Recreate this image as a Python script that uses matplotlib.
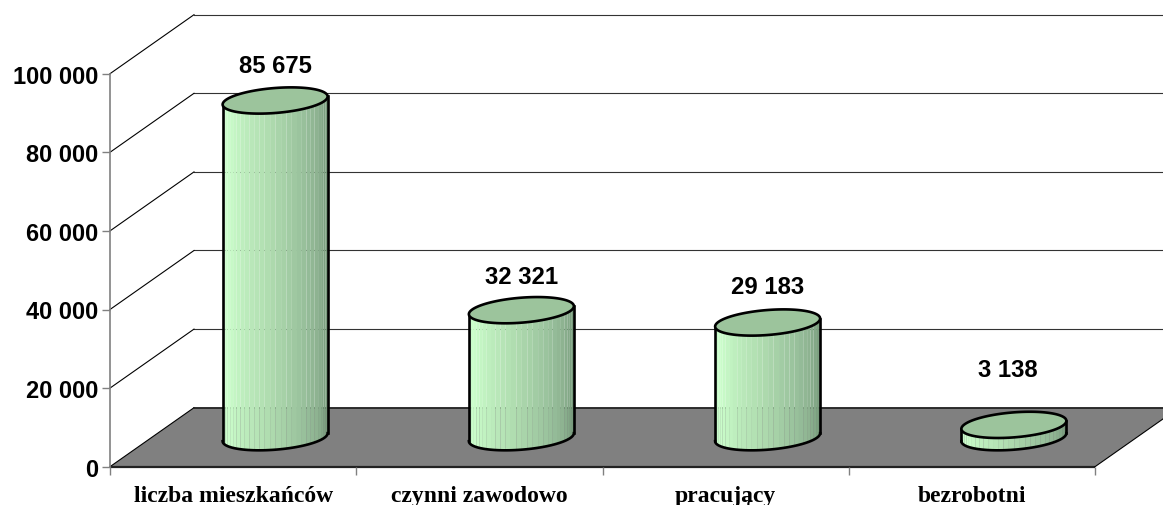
import numpy as np
import matplotlib
matplotlib.use("Agg")
import matplotlib.pyplot as plt
from matplotlib.colors import LinearSegmentedColormap

categories = ["liczba mieszkańców", "czynni zawodowo", "pracujący", "bezrobotni"]
values = [85675, 32321, 29183, 3138]
value_labels = ["85 675", "32 321", "29 183", "3 138"]
y_ticks = [0, 20000, 40000, 60000, 80000, 100000]
y_tick_labels = ["0", "20 000", "40 000", "60 000", "80 000", "100 000"]

W, H = 1163, 506
fig = plt.figure(figsize=(W / 100, H / 100), dpi=100)
ax = fig.add_axes([0, 0, 1, 1])

# scales: pixels per data unit
PX_X = 246.25
PX_Y = 393.0 / 100000
X0, Y0 = 110.0, 467.7
ax.set_xlim(-X0 / PX_X, (W - X0) / PX_X)
ax.set_ylim(-(H - Y0) / PX_Y, Y0 / PX_Y)

DX = 84.0 / PX_X      # depth offset
DY = 59.0 / PX_Y
A = 52.5 / PX_X       # cylinder half width (x radius)
B = 12.5 / PX_Y       # ellipse y radius
S = 4.0 / PX_Y        # ellipse tilt
LW = 1.9

# floor
ax.fill([0, 4, 4 + DX, DX], [0, 0, DY, DY], facecolor="#808080", edgecolor="none", zorder=1)
ax.plot([0, 4], [0, 0], color="#222222", lw=1.6, zorder=1.2, solid_capstyle="butt")
ax.plot([DX, 4 + DX], [DY, DY], color="#222222", lw=1.3, zorder=1.2)
ax.plot([4, 4 + DX], [0, DY], color="black", lw=0.8, zorder=1.2)

# walls
for v in y_ticks:
    ax.plot([0, DX], [v, v + DY], color="black", lw=0.8, zorder=1.1)
    if v > 0:
        ax.plot([DX, 4 + DX], [v + DY, v + DY], color="#333333", lw=0.8, zorder=0.9)

# cylinders
cmap = LinearSegmentedColormap.from_list(
    "cyl", [(0, "#BDEEC2"), (0.12, "#CCFFCC"), (0.45, "#B0DDB0"), (0.8, "#8CB190"), (1, "#688C6C")])
top_color = "#9CC49C"
N_STRIPS = 30
t_front = np.linspace(np.pi, 0, 121)  # front half, left to right
t_all = np.linspace(0, 2 * np.pi, 181)

for i, v in enumerate(values):
    cx = i + 0.5 + DX / 2
    base = DY / 2
    xs = cx + A * np.cos(t_front)
    low = base - B * np.sin(t_front) + S * np.cos(t_front)
    high = low + v
    edges = np.linspace(0, len(xs) - 1, N_STRIPS + 1).astype(int)
    for k in range(N_STRIPS):
        j0, j1 = edges[k], edges[k + 1] + 1
        ax.fill_between(xs[j0:j1], low[j0:j1], high[j0:j1],
                        color=cmap((k + 0.5) / N_STRIPS), lw=0, zorder=3)
    # outline of the side
    ax.plot(xs, low, color="black", lw=LW, zorder=4)
    ax.plot([xs[0], xs[0]], [low[0], high[0]], color="black", lw=LW, zorder=4)
    ax.plot([xs[-1], xs[-1]], [low[-1], high[-1]], color="black", lw=LW, zorder=4)
    # top ellipse
    tx = cx + A * np.cos(t_all)
    ty = base + v + B * np.sin(t_all) + S * np.cos(t_all)
    ax.fill(tx, ty, facecolor=top_color, edgecolor="black", lw=LW, zorder=5)

# value labels, offset from the cylinder top in pixels
label_dx = [0, 0, 0, -6]
label_dy = [35, 34, 36, 55]
for i, (v, s) in enumerate(zip(values, value_labels)):
    cx = i + 0.5 + DX / 2 + label_dx[i] / PX_X
    ax.text(cx, DY / 2 + v + label_dy[i] / PX_Y, s, ha="center", va="center",
            family="Liberation Sans", weight="bold", fontsize=17.2, color="black", zorder=6)

# axes
for side in ("top", "right"):
    ax.spines[side].set_visible(False)
ax.spines["left"].set_position(("data", 0))
ax.spines["left"].set_bounds(0, 100000)
ax.spines["left"].set_color("#808080")
ax.spines["left"].set_linewidth(1.2)
ax.spines["bottom"].set_position(("data", 0))
ax.spines["bottom"].set_bounds(0, 4)
ax.spines["bottom"].set_visible(False)

ax.set_yticks(y_ticks)
ax.set_yticklabels(y_tick_labels, family="Liberation Sans", weight="bold", fontsize=17)
ax.tick_params(axis="y", length=5.5, width=1.0, color="#808080", pad=3)

ax.set_xticks(np.arange(5))
ax.set_xticklabels([])
ax.set_xticks(np.arange(4) + 0.5, minor=True)
ax.set_xticklabels(categories, minor=True, family="Liberation Serif", weight="bold", fontsize=17)
ax.tick_params(axis="x", which="minor", length=0, pad=13)
ax.tick_params(axis="x", which="major", length=5.5, width=1.0, color="#808080")

fig.savefig("out.png", dpi=100, facecolor="white")
